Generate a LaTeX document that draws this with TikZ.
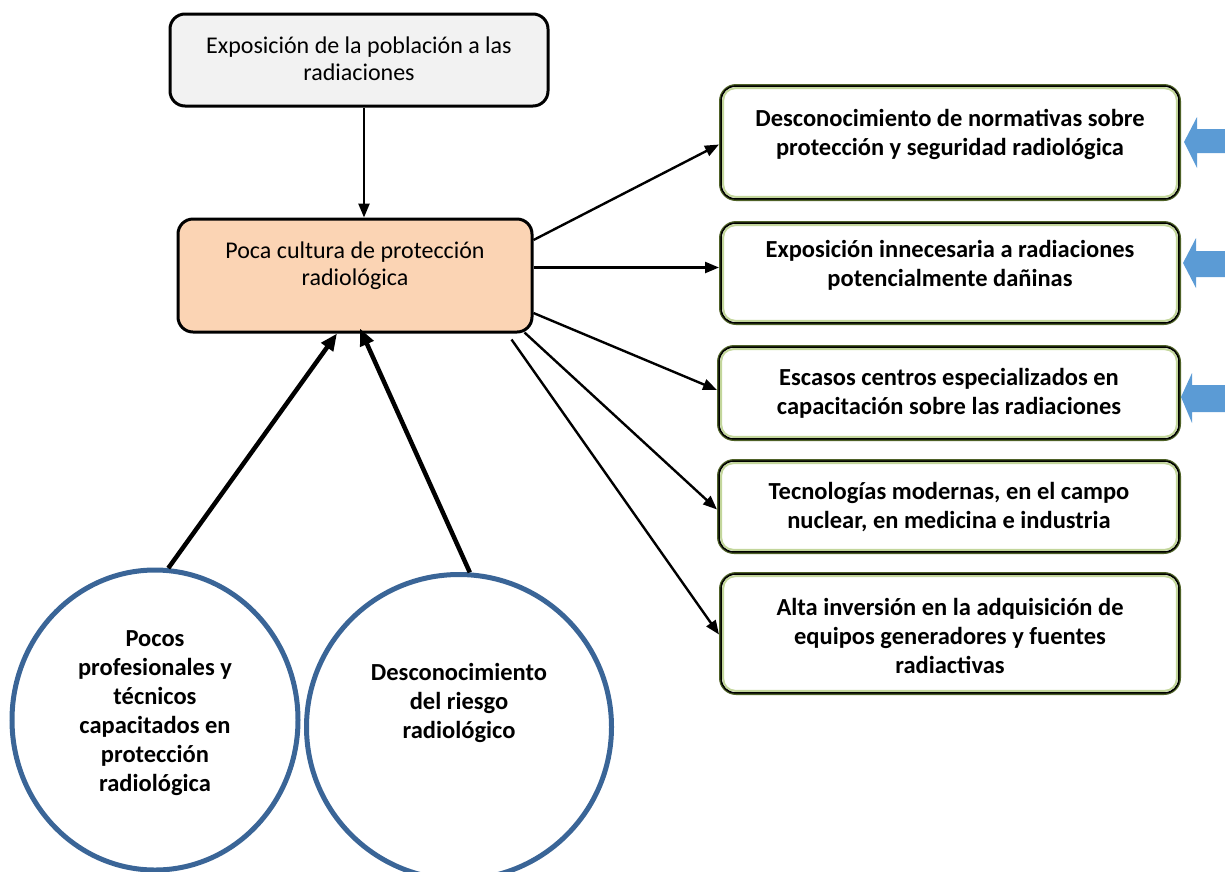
\documentclass[tikz,border=0pt]{standalone}
\usepackage{fontspec}
\setmainfont{Carlito}
\usetikzlibrary{shapes.geometric,arrows.meta,calc}
\definecolor{topfill}{HTML}{F2F2F2}
\definecolor{orfill}{HTML}{FBD4B4}
\definecolor{circblue}{HTML}{3A6597}
\definecolor{olive}{HTML}{4F6228}
\definecolor{lgreen}{HTML}{C3D69B}
\definecolor{arrblue}{HTML}{5B9BD5}
\tikzset{
  rbox/.style={rectangle, rounded corners=15pt, draw=black, line width=3pt},
  gbox/.style={rectangle, rounded corners=16pt, draw=olive, line width=2pt, minimum width=460pt},
  reg/.style={align=center, font=\fontsize{24}{27}\selectfont, inner sep=0pt},
  bld/.style={align=center, font=\fontsize{24.5}{29}\selectfont\bfseries, inner sep=0pt},
  circ/.style={ellipse, draw=circblue, line width=5pt, inner sep=0pt},
  arr/.style={-{Triangle[length=14pt,width=11pt]}, line width=2.4pt},
  bigarr/.style={-{Triangle[length=17pt,width=14pt]}, line width=4.5pt},
}
\begin{document}
\begin{tikzpicture}[x=1pt,y=-1pt]
\useasboundingbox (0,0) rectangle (1225,871);
% top box
\node[rbox, fill=topfill, minimum width=378pt, minimum height=92pt] (tb) at (359,60) {};
\node[reg] (tbt) at (359,59) {Exposición de la población a las\\radiaciones};
% orange box
\node[rbox, fill=orfill, minimum width=354pt, minimum height=113pt] (pc) at (355,275.5) {};
\node[reg] (pct) at (355,266) {Poca cultura de protección\\radiológica};
% right boxes
\node[gbox, minimum height=115pt] (r1) at (950,142.5) {};
\node[gbox, minimum height=102pt] (r2) at (950,273) {};
\node[gbox, minimum height=94pt, minimum width=462pt] (r3) at (949,393) {};
\node[gbox, minimum height=93pt, minimum width=462pt] (r4) at (949,506.5) {};
\node[gbox, minimum height=121pt] (r5) at (950,633.5) {};
\foreach \n in {r1,r2,r3,r4,r5}{
  \draw[black, line width=1.6pt, rounded corners=14pt] ([shift={(2.2pt,-2.2pt)}]\n.north west) rectangle ([shift={(-2.2pt,2.2pt)}]\n.south east);
  \draw[lgreen, line width=2pt, rounded corners=12pt] ([shift={(4.2pt,-4.2pt)}]\n.north west) rectangle ([shift={(-4.2pt,4.2pt)}]\n.south east);
}
\node[bld] (r1t) at (950,134.5) {Desconocimiento de normativas sobre\\protección y seguridad radiológica};
\node[bld] (r2t) at (950,265.5) {Exposición innecesaria a radiaciones\\potencialmente dañinas};
\node[bld] (r3t) at (949,393.5) {Escasos centros especializados en\\capacitación sobre las radiaciones};
\node[bld] (r4t) at (949,507) {Tecnologías modernas, en el campo\\nuclear, en medicina e industria};
\node[bld] (r5t) at (950,635.5) {Alta inversión en la adquisición de\\equipos generadores y fuentes\\radiactivas};
% circles
\node[circ, minimum width=286pt, minimum height=300pt] (c1) at (155,720) {};
\node[bld] (c1t) at (155,713) {Pocos\\profesionales y\\técnicos\\capacitados en\\protección\\radiológica};
\node[circ, minimum width=305pt, minimum height=305pt] (c2) at (459,727) {};
\node[bld] (c2t) at (459,703) {Desconocimiento\\del riesgo\\radiológico};
% blue arrows
\fill[arrblue] (1184,142) -- (1197,117) -- (1197,129) -- (1226,129) -- (1226,153) -- (1197,153) -- (1197,168) -- cycle;
\fill[arrblue] (1183,263) -- (1196,238) -- (1196,251) -- (1226,251) -- (1226,277) -- (1196,277) -- (1196,288) -- cycle;
\fill[arrblue] (1181,397) -- (1192,373) -- (1192,385) -- (1226,385) -- (1226,412) -- (1192,412) -- (1192,423) -- cycle;
% connectors
\coordinate (p2) at ([yshift=8pt]pc.east);
\draw[arr] ([xshift=5pt]tb.south) -- ([xshift=5pt]tb.south |- pc.north);
\draw[arr] ([yshift=35.5pt]pc.east) -- ([yshift=-2pt]r1.west);
\draw[arr] (p2) -- (r2.west |- p2);
\draw[arr] ([yshift=-37.5pt]pc.east) -- ([yshift=3pt]r3.west);
\draw[arr] ([xshift=-9pt,yshift=1pt]pc.south east) -- ([yshift=-3pt]r4.west);
\draw[arr] ([xshift=-22pt,yshift=-6pt]pc.south east) -- ([yshift=-1pt]r5.west);
\draw[bigarr] (c1.85) -- ([xshift=-18pt]pc.south);
\draw[bigarr] (c2.86) -- ([xshift=5pt,yshift=5pt]pc.south);
\end{tikzpicture}
\end{document}
